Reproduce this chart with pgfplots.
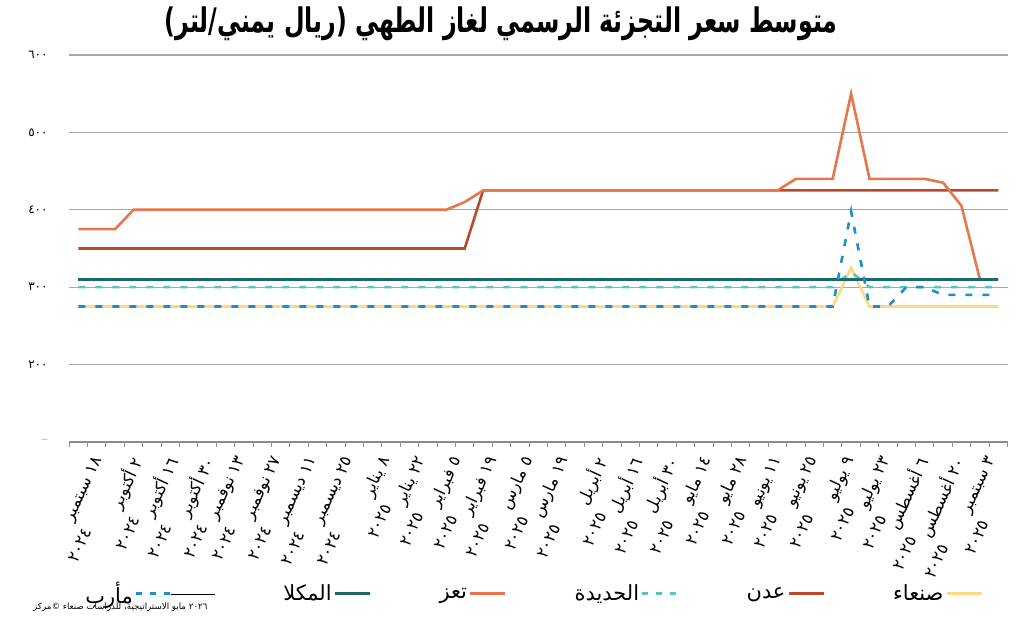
\documentclass[border=0pt]{standalone}
\usepackage{fontspec}
\usepackage{graphicx}
\usepackage{pgfplots}
\usepackage{pgfplotstable}
\pgfplotsset{compat=1.18}
\TeXXeTstate=1
\newfontfamily\arabicfont[Script=Arabic]{DejaVu Sans}
\newcommand\ar[1]{{\arabicfont\beginR #1\endR}}
\newcommand\xl[2]{{\arabicfont\beginR #1\endR}\\{\arabicfont\beginR #2\endR}\hphantom{\arabicfont\beginR #1\endR}}
\definecolor{csanaa}{HTML}{FFD97F}
\definecolor{caden}{HTML}{B8492B}
\definecolor{chod}{HTML}{5AC3C9}
\definecolor{ctaiz}{HTML}{E8764B}
\definecolor{cmuk}{HTML}{1B6B6C}
\definecolor{cmarib}{HTML}{1D8ECB}
\definecolor{cgrid}{HTML}{A8A8A8}
\definecolor{caxis}{HTML}{8C8C8C}

\pgfplotstableread{
i sanaa aden hod taiz muk marib
0 275 350 300 375 310 275
1 275 350 300 375 310 275
2 275 350 300 375 310 275
3 275 350 300 400 310 275
4 275 350 300 400 310 275
5 275 350 300 400 310 275
6 275 350 300 400 310 275
7 275 350 300 400 310 275
8 275 350 300 400 310 275
9 275 350 300 400 310 275
10 275 350 300 400 310 275
11 275 350 300 400 310 275
12 275 350 300 400 310 275
13 275 350 300 400 310 275
14 275 350 300 400 310 275
15 275 350 300 400 310 275
16 275 350 300 400 310 275
17 275 350 300 400 310 275
18 275 350 300 400 310 275
19 275 350 300 400 310 275
20 275 350 300 400 310 275
21 275 350 300 410 310 275
22 275 425 300 425 310 275
23 275 425 300 425 310 275
24 275 425 300 425 310 275
25 275 425 300 425 310 275
26 275 425 300 425 310 275
27 275 425 300 425 310 275
28 275 425 300 425 310 275
29 275 425 300 425 310 275
30 275 425 300 425 310 275
31 275 425 300 425 310 275
32 275 425 300 425 310 275
33 275 425 300 425 310 275
34 275 425 300 425 310 275
35 275 425 300 425 310 275
36 275 425 300 425 310 275
37 275 425 300 425 310 275
38 275 425 300 425 310 275
39 275 425 300 440 310 275
40 275 425 300 440 310 275
41 275 425 300 440 310 275
42 325 425 320 550 310 398
43 275 425 300 440 310 275
44 275 425 300 440 310 275
45 275 425 300 440 310 300
46 275 425 300 440 310 300
47 275 425 300 435 310 290
48 275 425 300 405 310 290
49 275 425 300 310 310 290
50 275 425 300 310 310 290
}\datatable

\begin{document}
\begin{tikzpicture}
\begin{axis}[
  at={(69.1bp,176bp)}, anchor=south west,
  scale only axis, width=938.4bp, height=387bp,
  xmin=-0.5, xmax=50.5, ymin=100, ymax=600,
  separate axis lines,
  axis x line*=bottom, axis y line*=left,
  x axis line style={draw=caxis, line width=1.5bp, -},
  y axis line style={draw=none},
  ytick={100,200,300,400,500,600},
  yticklabels={–,{\arabicfont ٢٠٠},{\arabicfont ٣٠٠},{\arabicfont ٤٠٠},{\arabicfont ٥٠٠},{\arabicfont ٦٠٠}},
  yticklabel style={font=\fontsize{12}{13}\selectfont, xshift=-18bp},
  ymajorgrids, grid style={draw=cgrid, line width=1.2bp},
  major tick length=0pt, tick align=outside,
  xtick={0.755,2.697,4.639,6.581,8.523,10.465,12.407,14.349,16.291,18.233,20.175,22.117,24.059,26.001,27.943,29.885,31.827,33.769,35.711,37.653,39.595,41.537,43.479,45.421,47.363,49.305},
  xticklabels={
    \xl{١٨ سبتمبر}{٢٠٢٤},\xl{٢ أكتوبر}{٢٠٢٤},\xl{١٦ أكتوبر}{٢٠٢٤},\xl{٣٠ أكتوبر}{٢٠٢٤},
    \xl{١٣ نوفمبر}{٢٠٢٤},\xl{٢٧ نوفمبر}{٢٠٢٤},\xl{١١ ديسمبر}{٢٠٢٤},\xl{٢٥ ديسمبر}{٢٠٢٤},
    \xl{٨ يناير}{٢٠٢٥},\xl{٢٢ يناير}{٢٠٢٥},\xl{٥ فبراير}{٢٠٢٥},\xl{١٩ فبراير}{٢٠٢٥},
    \xl{٥ مارس}{٢٠٢٥},\xl{١٩ مارس}{٢٠٢٥},\xl{٢ أبريل}{٢٠٢٥},\xl{١٦ أبريل}{٢٠٢٥},
    \xl{٣٠ أبريل}{٢٠٢٥},\xl{١٤ مايو}{٢٠٢٥},\xl{٢٨ مايو}{٢٠٢٥},\xl{١١ يونيو}{٢٠٢٥},
    \xl{٢٥ يونيو}{٢٠٢٥},\xl{٩ يوليو}{٢٠٢٥},\xl{٢٣ يوليو}{٢٠٢٥},\xl{٦ أغسطس}{٢٠٢٥},
    \xl{٢٠ أغسطس}{٢٠٢٥},\xl{٣ سبتمبر}{٢٠٢٥}},
  xticklabel style={yshift=-11bp, rotate=65, anchor=north east, align=right,
    font=\fontsize{16.5}{22}\selectfont, inner sep=1bp},
  extra x ticks={-0.5,0.5,...,50.5},
  extra x tick labels={},
  extra x tick style={major tick length=5bp, tick style={draw=caxis, line width=1bp}},
  legend style={at={(0.4946,-0.392)}, anchor=center, draw=none, fill=none,
    font=\fontsize{21}{21}\selectfont,
    /tikz/every even column/.append style={column sep=66bp}},
  legend columns=6, legend plot pos=right, reverse legend,
  legend image code/.code={\draw[#1] (0bp,0bp) -- (35bp,0bp);},
]
\addplot[csanaa, line width=2.6bp, forget plot] table[x=i,y=sanaa] {\datatable};
\addplot[caden, line width=2.6bp, forget plot] table[x=i,y=aden] {\datatable};
\addplot[chod, line width=2.6bp, dash pattern=on 7bp off 10bp, forget plot] table[x=i,y=hod] {\datatable};
\addplot[ctaiz, line width=2.6bp, forget plot] table[x=i,y=taiz] {\datatable};
\addplot[cmuk, line width=3bp, forget plot] table[x=i,y=muk] {\datatable};
\addplot[cmarib, line width=2.6bp, dash pattern=on 7bp off 10bp, forget plot] table[x=i,y=marib] {\datatable};
\addlegendimage{csanaa, line width=2.6bp}
\addlegendentry{\ar{صنعاء}}
\addlegendimage{caden, line width=2.6bp}
\addlegendentry{\ar{عدن}}
\addlegendimage{chod, line width=2.6bp, dash pattern=on 6bp off 8bp}
\addlegendentry{\ar{الحديدة}}
\addlegendimage{ctaiz, line width=2.6bp}
\addlegendentry{\ar{تعز}}
\addlegendimage{cmuk, line width=3bp}
\addlegendentry{\ar{المكلا}}
\addlegendimage{legend image code/.code={\draw[cmarib, line width=2.6bp, dash pattern=on 6bp off 8bp] (0bp,0bp) -- (35bp,0bp); \path (35bp,0bp) -- (79bp,0bp);}}
\addlegendentry{\ar{مأرب}}
\end{axis}
\node at (501bp,594bp) {\resizebox*{673bp}{34bp}{\arabicfont\bfseries\beginR متوسط سعر التجزئة الرسمي لغاز الطهي (ريال يمني/لتر)\endR}};
\node[anchor=west, inner sep=0pt] at (33bp,11bp) {\fontsize{8.7}{9}\selectfont\arabicfont ©مركز صنعاء للدراسات الاستراتيجية، مايو ٢٠٢٦};
\pgfresetboundingbox
\useasboundingbox (0bp,0bp) rectangle (1024bp,618bp);
\end{tikzpicture}
\end{document}
